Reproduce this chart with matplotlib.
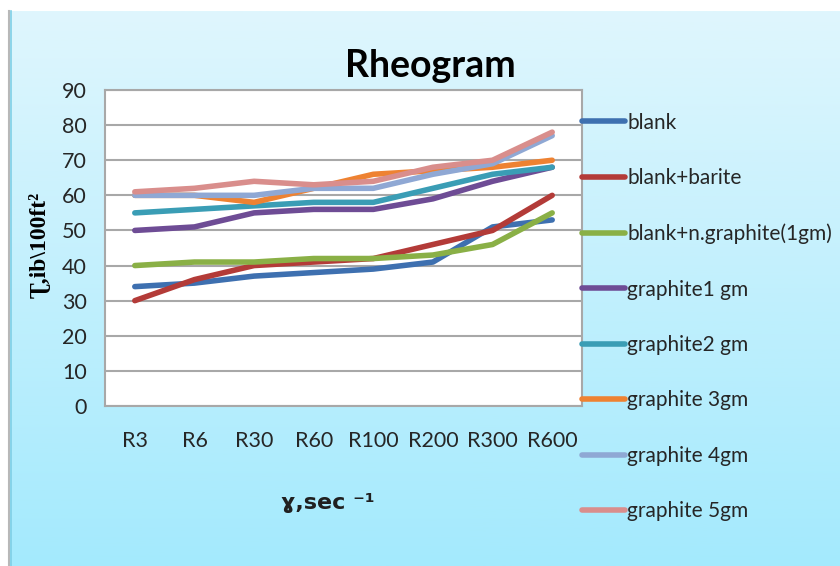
import matplotlib
matplotlib.use("Agg")
import matplotlib.pyplot as plt
import numpy as np

# shear rate readings and shear stress (lb/100ft2) per mud sample
rates = ["R3", "R6", "R30", "R60", "R100", "R200", "R300", "R600"]
blank = [34, 35, 37, 38, 39, 41, 51, 53]
blank_barite = [30, 36, 40, 41, 42, 46, 50, 60]
blank_ngraphite = [40, 41, 41, 42, 42, 43, 46, 55]
graphite1 = [50, 51, 55, 56, 56, 59, 64, 68]
graphite2 = [55, 56, 57, 58, 58, 62, 66, 68]
graphite3 = [60, 60, 58, 62, 66, 67, 68, 70]
graphite4 = [60, 60, 60, 62, 62, 66, 69, 77]
graphite5 = [61, 62, 64, 63, 64, 68, 70, 78]

series = [
    ("blank", blank, "#3E70B0"),
    ("blank+barite", blank_barite, "#B33B38"),
    ("blank+n.graphite(1gm)", blank_ngraphite, "#8AB046"),
    ("graphite1 gm", graphite1, "#6E4C95"),
    ("graphite2 gm", graphite2, "#3A9DB5"),
    ("graphite 3gm", graphite3, "#EE8232"),
    ("graphite 4gm", graphite4, "#8FA8D4"),
    ("graphite 5gm", graphite5, "#D98E8C"),
]

txt_font = ["Lato", "DejaVu Sans"]

fig = plt.figure(figsize=(8.4, 5.66), dpi=100)
fig.patch.set_facecolor("white")

# light cyan gradient behind everything
bg = fig.add_axes([10 / 840, 0, 1 - 10 / 840, 1 - 11 / 566], zorder=-10)
grad = np.linspace(0, 1, 256).reshape(-1, 1)
c_top = np.array([0xdf, 0xf6, 0xfd]) / 255
c_bot = np.array([0xa4, 0xea, 0xfd]) / 255
img = c_top[None, None, :] * (1 - grad[:, :, None]) + c_bot[None, None, :] * grad[:, :, None]
bg.imshow(img, aspect="auto", extent=[0, 1, 0, 1])
bg.axis("off")
fig.add_artist(plt.Line2D([8.5 / 840, 8.5 / 840], [0, 1 - 11 / 566],
                          transform=fig.transFigure, color="#b8b8b8", lw=1.5))
fig.add_artist(plt.Line2D([10.5 / 840, 10.5 / 840], [0, 1 - 11 / 566],
                          transform=fig.transFigure, color="#7fcfe6", lw=1.2))

ax = fig.add_axes([105 / 840, 1 - 406 / 566, 477 / 840, 316 / 566])
ax.set_facecolor("white")
x = np.arange(len(rates))
for name, vals, col in series:
    ax.plot(x, vals, color=col, lw=4.0, label=name, solid_capstyle="round",
            solid_joinstyle="round")

ax.set_xlim(-0.5, len(rates) - 0.5)
ax.set_ylim(0, 90)
ax.set_yticks(range(0, 91, 10))
ax.set_xticks(x)
ax.set_xticklabels(rates)
ax.yaxis.grid(True, color="#a8a8a8", lw=1.5)
ax.set_axisbelow(True)
ax.tick_params(axis="both", length=0, labelsize=15.5, colors="#262626")
ax.tick_params(axis="x", pad=18)
ax.tick_params(axis="y", pad=13)
for lab in ax.get_xticklabels() + ax.get_yticklabels():
    lab.set_family(txt_font)
for side in ["left", "bottom", "top", "right"]:
    ax.spines[side].set_color("#a8a8a8")
    ax.spines[side].set_linewidth(1.5)

fig.text(430 / 840, 1 - 66 / 566, "Rheogram", ha="center", va="center",
         fontsize=27, fontweight="bold", family=["Lato", "DejaVu Sans"])
fig.text(40 / 840, 1 - 245 / 566, "Ʈ,ib\\100ft²", rotation=90, ha="center",
         va="center", fontsize=17, fontweight="bold",
         family=["Liberation Serif", "DejaVu Serif"])
fig.text(328 / 840, 1 - 503 / 566, "ɣ,sec ⁻¹", ha="center", va="center",
         fontsize=16, fontweight="bold", family=["DejaVu Sans"], color="#202020")

leg = fig.legend(loc="center left", bbox_to_anchor=(582 / 840, 1 - 317 / 566),
                 frameon=False, borderpad=0, borderaxespad=0,
                 handlelength=2.05, handletextpad=0.12, labelspacing=1.70,
                 prop={"family": txt_font, "size": 15})
for t in leg.get_texts():
    t.set_color("#262626")

fig.savefig("out.png", dpi=100)
